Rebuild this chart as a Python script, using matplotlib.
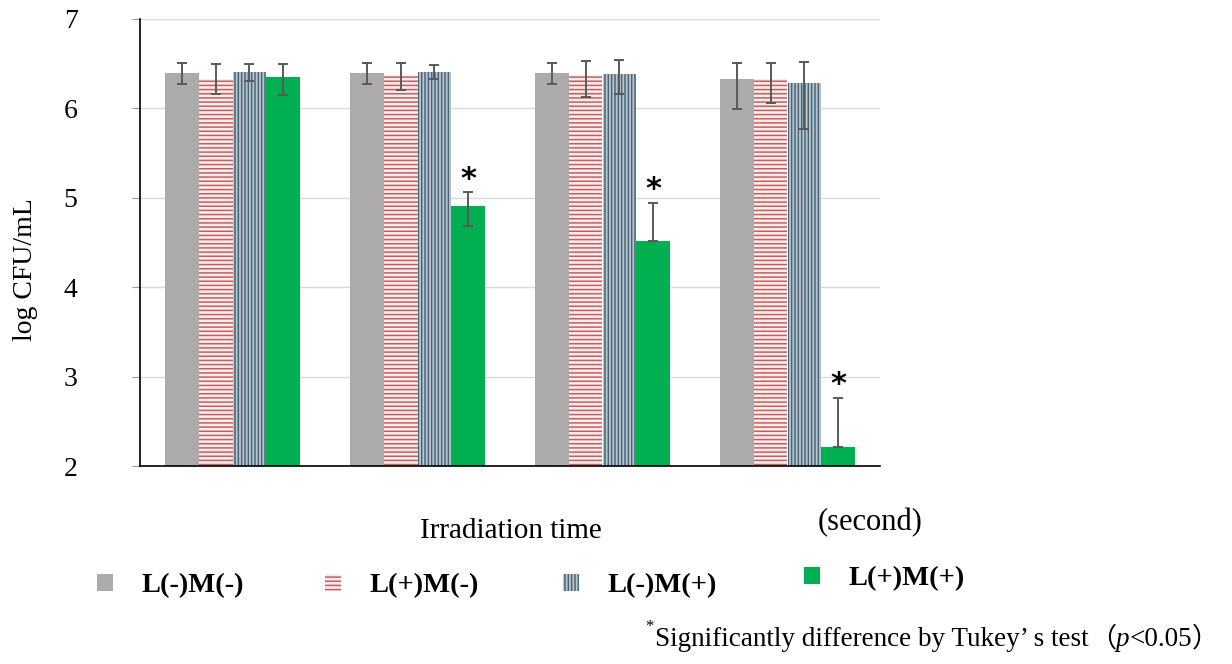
import matplotlib
matplotlib.use("Agg")
import matplotlib.pyplot as plt
import numpy as np

# ---- data ----
groups = ["", "", "", ""]
series = ["L(-)M(-)", "L(+)M(-)", "L(-)M(+)", "L(+)M(+)"]
means_LmMm = [6.40, 6.40, 6.40, 6.33]
means_LpMm = [6.33, 6.37, 6.37, 6.33]
means_LmMp = [6.41, 6.41, 6.39, 6.28]
means_LpMp = [6.35, 4.91, 4.52, 2.21]
err_hi_LmMm = [0.11, 0.11, 0.11, 0.18]
err_lo_LmMm = [0.13, 0.13, 0.13, 0.34]
err_hi_LpMm = [0.17, 0.14, 0.16, 0.18]
err_lo_LpMm = [0.17, 0.16, 0.24, 0.27]
err_hi_LmMp = [0.09, 0.08, 0.15, 0.24]
err_lo_LmMp = [0.10, 0.08, 0.23, 0.51]
err_hi_LpMp = [0.15, 0.15, 0.42, 0.55]
err_lo_LpMp = [0.20, 0.23, 0.0, 0.0]
significant = [False, True, True, True]
yticks = [2, 3, 4, 5, 6, 7]

plt.rcParams["hatch.linewidth"] = 1.1

fig = plt.figure(figsize=(12.32, 6.64), dpi=100)
W, H = 1232, 664
ax = fig.add_axes([140 / W, 1 - 466 / H, 740 / W, 447 / H])

x = np.arange(len(groups))
bw = 0.182
means = [means_LmMm, means_LpMm, means_LmMp, means_LpMp]
errs = [(err_lo_LmMm, err_hi_LmMm), (err_lo_LpMm, err_hi_LpMm),
        (err_lo_LmMp, err_hi_LmMp), (err_lo_LpMp, err_hi_LpMp)]
styles = [
    dict(color="#ADAAAA", linewidth=0),
    dict(facecolor="#FBECEC", edgecolor="#C25F63", hatch="----", linewidth=0),
    dict(facecolor="#B9C7D0", edgecolor="#4A6576", hatch="|||||", linewidth=0),
    dict(color="#00B050", linewidth=0),
]
bars = []
for i in range(4):
    b = ax.bar(x + (i - 1.5) * bw, means[i], bw, bottom=0, label=series[i],
               yerr=[errs[i][0], errs[i][1]],
               error_kw=dict(ecolor="#595959", elinewidth=1.4, capsize=3.5, capthick=1.4),
               zorder=2, **styles[i])
    bars.append(b)

for j in range(len(groups)):
    if significant[j]:
        ax.text(x[j] + 1.5 * bw, means_LpMp[j] + err_hi_LpMp[j] + 0.15, "*",
                ha="center", va="center", fontsize=22, fontweight="bold",
                family="DejaVu Sans", color="black")

ax.set_xlim(-0.5, 3.5)
ax.set_ylim(2, 7)
ax.set_yticks(yticks)
ax.set_xticks([])
ax.yaxis.grid(True, color="#D9D9D9", linewidth=1.0)
ax.set_axisbelow(True)
for s in ["top", "right"]:
    ax.spines[s].set_visible(False)
ax.spines["left"].set_color("black")
ax.spines["bottom"].set_color("black")
ax.spines["left"].set_linewidth(1.2)
ax.spines["bottom"].set_linewidth(1.2)
ax.tick_params(axis="y", length=6, color="#9A9A9A", pad=39, labelsize=20)
for lab in ax.get_yticklabels():
    lab.set_family("Liberation Serif")

fig.text(25 / W, 1 - 270 / H, "log CFU/mL", rotation=90, ha="center", va="center",
         fontsize=20, family="Liberation Serif")
fig.text(511 / W, 1 - 531 / H, "Irradiation time", ha="center", va="center",
         fontsize=21, family="Liberation Serif")
fig.text(818 / W, 1 - 523 / H, "(second)", ha="left", va="center",
         fontsize=22, family="Liberation Serif")

# ---- legend entries ----
leg_x = [97, 325, 563, 804]
leg_y = [586, 586, 586, 579]
for i in range(4):
    fig.legend([bars[i]], [series[i]], loc="center left",
               bbox_to_anchor=(leg_x[i] / W, 1 - leg_y[i] / H),
               frameon=False, borderpad=0, borderaxespad=0,
               handlelength=0.55, handleheight=0.55, handletextpad=1.0,
               prop=dict(family="Liberation Serif", weight="bold", size=20.5))

# ---- footnote ----
renderer = fig.canvas.get_renderer()
def seq(parts, x0, y):
    xc = x0
    for s, kw in parts:
        t = fig.text(xc / W, y / H, s, ha="left", va="baseline", **kw)
        bb = t.get_window_extent(renderer)
        xc += bb.width

base = 1 - 646 / H
fig.text(645 / W, 1 - 627 / H, "*", ha="left", va="center", fontsize=12,
         family="Liberation Serif")
fs = 19.5
seq([("Significantly difference by Tukey\u2019 s test", dict(fontsize=fs, family="Liberation Serif")),
     ("\uff08", dict(fontsize=fs, family="Noto Sans CJK JP")),
     ("p", dict(fontsize=fs, family="Liberation Serif", style="italic")),
     ("<0.05", dict(fontsize=fs, family="Liberation Serif")),
     ("\uff09", dict(fontsize=fs, family="Noto Sans CJK JP"))],
    655, base * H)

fig.savefig("out.png", dpi=100)
